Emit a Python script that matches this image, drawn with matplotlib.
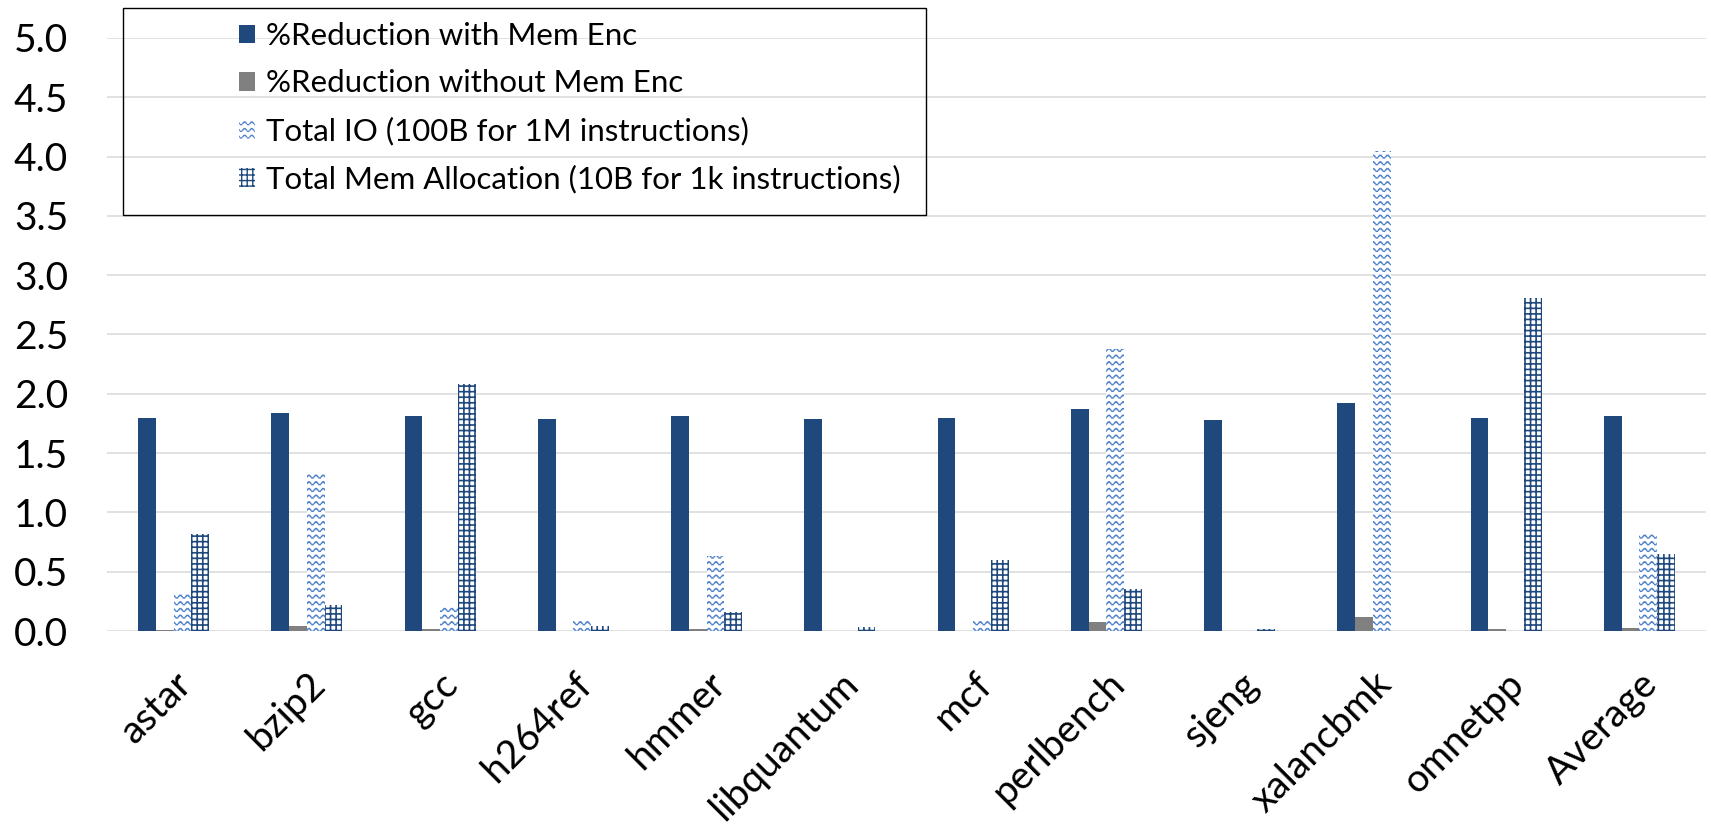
import warnings
import numpy as np
import matplotlib
matplotlib.use('Agg')
import matplotlib.pyplot as plt
import matplotlib.hatch as mhatch
from matplotlib.path import Path
from matplotlib.patches import Rectangle, Patch

warnings.filterwarnings('ignore')

benchmarks = ['astar', 'bzip2', 'gcc', 'h264ref', 'hmmer', 'libquantum',
              'mcf', 'perlbench', 'sjeng', 'xalancbmk', 'omnetpp', 'Average']
red_with_enc = [1.80, 1.84, 1.81, 1.79, 1.81, 1.79, 1.80, 1.87, 1.78, 1.92, 1.80, 1.81]
red_without_enc = [0.01, 0.04, 0.015, 0.0, 0.015, 0.0, 0.0, 0.08, 0.0, 0.12, 0.015, 0.025]
total_io = [0.33, 1.34, 0.20, 0.09, 0.63, 0.0, 0.10, 2.38, 0.0, 4.05, 0.0, 0.83]
total_mem = [0.82, 0.22, 2.08, 0.04, 0.16, 0.035, 0.60, 0.35, 0.015, 0.0, 2.81, 0.65]

labels = ['%Reduction with Mem Enc',
          '%Reduction without Mem Enc',
          'Total IO (100B for 1M instructions)',
          'Total Mem Allocation (10B for 1k instructions)']

DARK = '#1F497D'
GRAY = '#808080'
WAVE = '#4F82C8'


class WaveHatch(mhatch.HatchPatternBase):
    """Rows of dotted waves, selected with '~' in a hatch string."""

    def __init__(self, hatch, density):
        self.num_rows = int(round(hatch.count('~') * density * 2.5))
        self.waves = 14
        self.steps = self.waves * 6
        self.num_vertices = self.num_rows * self.steps

    def set_vertices_and_codes(self, vertices, codes):
        xs = np.linspace(0.0, 1.0, self.steps + 1)
        x0, x1 = xs[:-1:2], xs[1::2]
        amp = 0.22 / max(self.num_rows, 1)
        for r in range(self.num_rows):
            y = (r + 0.5) / self.num_rows
            s = slice(r * self.steps, (r + 1) * self.steps)
            v = vertices[s]
            v[0::2, 0] = x0
            v[0::2, 1] = y + amp * np.sin(2 * np.pi * self.waves * x0)
            v[1::2, 0] = x1
            v[1::2, 1] = y + amp * np.sin(2 * np.pi * self.waves * x1)
            c = codes[s]
            c[0::2] = Path.MOVETO
            c[1::2] = Path.LINETO


mhatch._hatch_types.append(WaveHatch)

plt.rcParams['font.family'] = ['Lato', 'DejaVu Sans']

fig = plt.figure(figsize=(17.11, 8.26), dpi=100)
ax = fig.add_axes([107 / 1711, 195 / 826, 1599 / 1711, 593 / 826])

x = np.arange(len(benchmarks))
w = 0.1335

styles = [
    dict(color=DARK, linewidth=0),
    dict(color=GRAY, linewidth=0),
    dict(facecolor='white', edgecolor=WAVE, hatch='~', linewidth=0),
    dict(facecolor='white', edgecolor=DARK, hatch='+++', linewidth=0),
]
hatch_lw = [1.0, 1.0, 1.1, 1.2]
series = [red_with_enc, red_without_enc, total_io, total_mem]

handles = []
for i, (vals, st) in enumerate(zip(series, styles)):
    with plt.rc_context({'hatch.linewidth': hatch_lw[i]}):
        ax.bar(x + (i - 1.5) * w, vals, w, zorder=2, **st)
        handles.append(Patch(**st))

ax.set_xlim(-0.5, len(benchmarks) - 0.5)
ax.set_ylim(0, 5.0)
ax.set_yticks(np.arange(0, 5.01, 0.5))
ax.set_yticklabels([f'{v:.1f}' for v in np.arange(0, 5.01, 0.5)])
ax.yaxis.grid(True, color='#D9D9D9', linewidth=1.1)
ax.set_axisbelow(True)
for sp in ax.spines.values():
    sp.set_visible(False)

ax.set_xticks(x)
ax.set_xticklabels(benchmarks, rotation=45, ha='right', va='top',
                   rotation_mode='anchor')
ax.tick_params(axis='y', length=0, pad=28, labelsize=28)
ax.tick_params(axis='x', length=0, pad=25, labelsize=28)

# legend sits in a plain box over the upper left of the plot
fig.patches.append(Rectangle((123 / 1711, 1 - 215 / 826), 803 / 1711, 207 / 826,
                             transform=fig.transFigure, fill=False,
                             edgecolor='black', linewidth=1.0, zorder=5))
leg = fig.legend(handles, labels, loc='upper left',
                 bbox_to_anchor=(239 / 1711, 1 - 22 / 826),
                 frameon=False, fontsize=22.5, borderpad=0, borderaxespad=0,
                 handlelength=0.5, handleheight=0.55, handletextpad=0.35,
                 labelspacing=0.62)

fig.savefig('out.png', dpi=100)
